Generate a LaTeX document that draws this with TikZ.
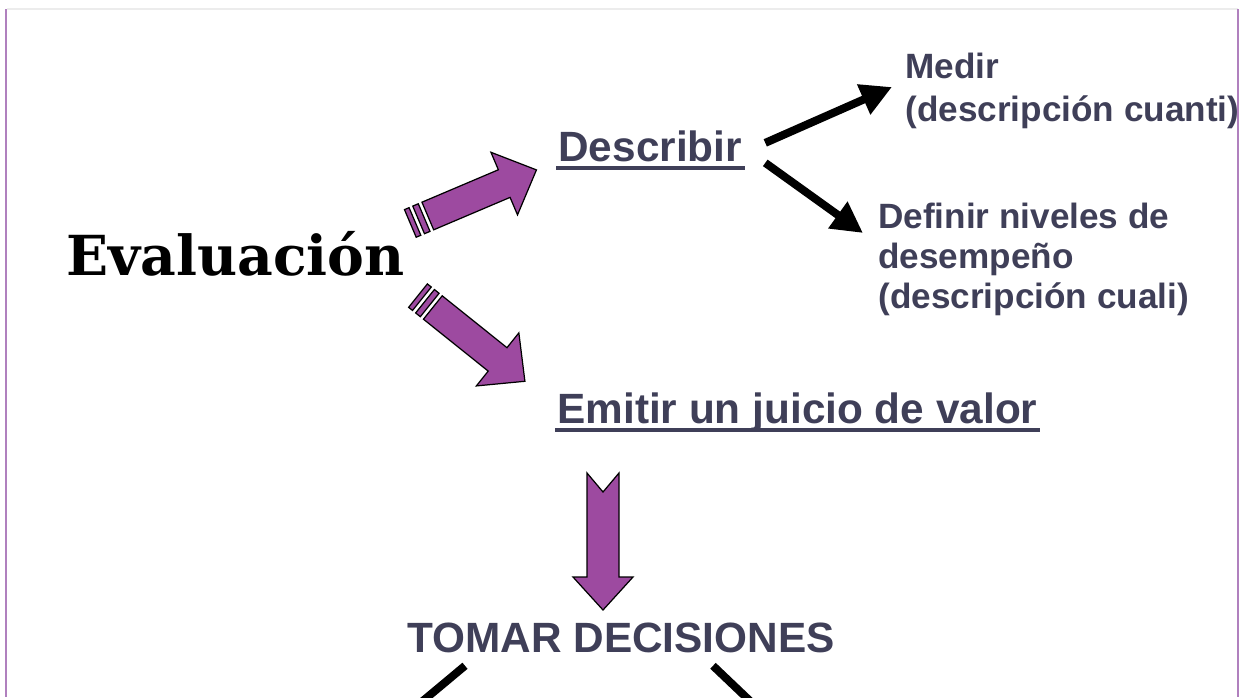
\documentclass[tikz,border=0pt]{standalone}
\usepackage{fontspec}
\setmainfont{Liberation Sans}
\newfontfamily\bigserif{DejaVu Serif}
\usetikzlibrary{arrows.meta,positioning}

\definecolor{slate}{RGB}{63,63,88}
\definecolor{plum}{RGB}{157,74,160}
\definecolor{lilac}{RGB}{176,128,190}
\definecolor{rulegray}{RGB}{236,236,236}

\tikzstyle{t} = [inner sep=0pt, text=slate, anchor=base west, font=\bfseries\fontsize{24.1}{28}\selectfont]
\tikzstyle{small} = [inner sep=0pt, text=slate, anchor=north west, align=left]
\tikzstyle{ul} = [draw=slate, line width=0.08cm]
\tikzstyle{blk} = [draw=black, line width=0.16cm, -{Triangle[length=0.62cm,width=0.62cm]}]
\tikzstyle{fat} = [fill=plum, draw=black, line width=0.7pt, line join=miter]

\begin{document}
\begin{tikzpicture}[x=0.02cm,y=-0.02cm]
\useasboundingbox (0,0) rectangle (1248,697);
\clip (0,0) rectangle (1248,697);

% frame
\draw[rulegray, line width=0.04cm] (7,9) -- (1238,9);
\draw[lilac, line width=0.05cm] (6,9) -- (6,697);
\draw[lilac, line width=0.04cm] (1238,9) -- (1238,697);

\node[inner sep=0pt, anchor=base west, font=\bigserif\bfseries\fontsize{31.4}{36}\selectfont] (eval) at (66,275) {Evaluación};

\node[t] (desc) at (558,161) {Describir};
\node[t] (emitir) at (557,423) {Emitir un juicio de valor};
\node[t] (tomar) at (407,652) {TOMAR DECISIONES};

\node[small, font=\bfseries\fontsize{20}{24.5}\selectfont] (medir) at (905,53) {Medir\\(descripción cuanti)};
\node[small, font=\bfseries\fontsize{20}{22.8}\selectfont] (defin) at (878,203) {Definir niveles de\\desempeño\\(descripción cuali)};

% underlines
\draw[ul] ([shift={(-2,6.5)}]desc.base west) -- ([shift={(3,6.5)}]desc.base east);
\draw[ul] ([shift={(-2,6.5)}]emitir.base west) -- ([shift={(2,6.5)}]emitir.base east);

% fat purple arrows
\path ([shift={(23,-59)}]eval.base east) coordinate (up1);
\path ([shift={(28,32.5)}]eval.base east) coordinate (dn1);
\path ([shift={(46,50)}]emitir.base west) coordinate (dn2);

\begin{scope}[shift={(up1)}, rotate=23]
  \draw[fat] (0,-15) -- (83,-15) -- (83,-34) -- (118,0) -- (83,34) -- (83,15) -- (0,15) -- cycle;
  \draw[fat] (-10,-15) rectangle (-4,15);
  \draw[fat] (-19,-15) rectangle (-14,15);
\end{scope}

\begin{scope}[shift={(dn1)}, rotate=-38.7]
  \draw[fat] (0,-15) -- (83,-15) -- (83,-34) -- (118,0) -- (83,34) -- (83,15) -- (0,15) -- cycle;
  \draw[fat] (-10,-15) rectangle (-4,15);
  \draw[fat] (-19,-15) rectangle (-14,15);
\end{scope}

\begin{scope}[shift={(dn2)}, rotate=-90]
  \draw[fat] (0,-16) -- (104,-16) -- (104,-30) -- (137,0) -- (104,30) -- (104,16) -- (0,16) -- (19,0) -- cycle;
\end{scope}

% black arrows
\coordinate (offL) at (400,720);
\coordinate (offR) at (770,720);

\draw[blk] ([shift={(23,-3)}]desc.east) -- ([shift={(-13,34)}]medir.north west);
\draw[blk] ([shift={(23,17)}]desc.east) -- ([shift={(-15,30)}]defin.north west);
\draw[draw=black, line width=0.16cm] ([shift={(58,13)}]tomar.south west) -- (offL);
\draw[draw=black, line width=0.16cm] ([shift={(306,13)}]tomar.south west) -- (offR);

\end{tikzpicture}
\end{document}
